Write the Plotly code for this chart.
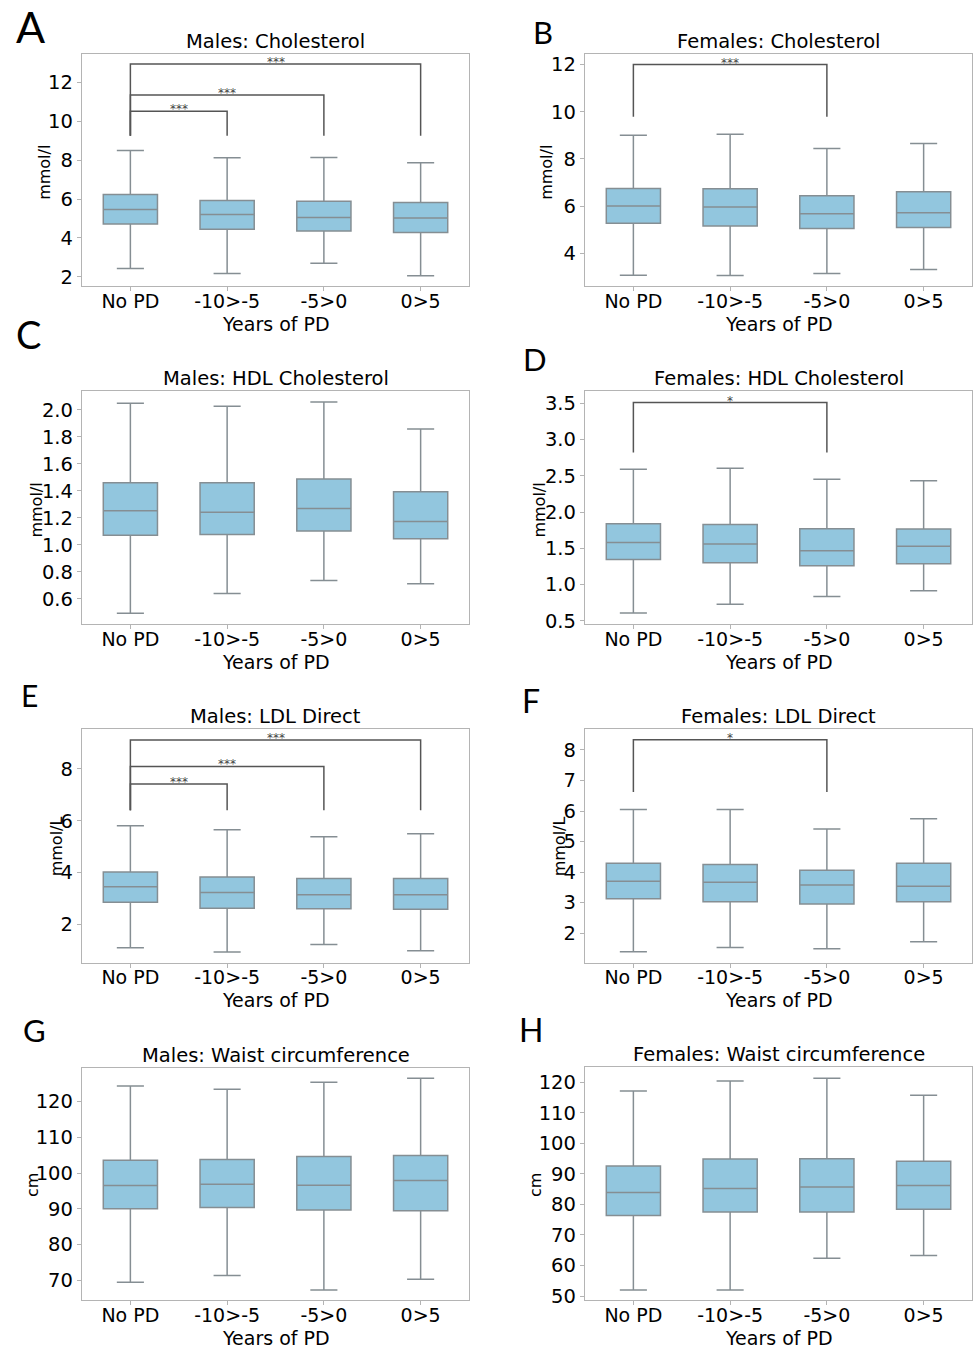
import plotly.graph_objects as go

W, H = 974, 1352

categories = ["No PD", "-10>-5", "-5>0", "0>5"]

panel_letters = ["A", "B", "C", "D", "E", "F", "G", "H"]
titles = ["Males: Cholesterol", "Females: Cholesterol",
          "Males: HDL Cholesterol", "Females: HDL Cholesterol",
          "Males: LDL Direct", "Females: LDL Direct",
          "Males: Waist circumference", "Females: Waist circumference"]
ylabels = ["mmol/l", "mmol/l", "mmol/l", "mmol/l", "mmol/L", "mmol/L", "cm", "cm"]
x_title = "Years of PD"

# box statistics per panel: lower whisker, Q1, median, Q3, upper whisker
low_A = [2.43, 2.17, 2.70, 2.05]
q1_A = [4.71, 4.44, 4.35, 4.28]
med_A = [5.46, 5.20, 5.05, 5.02]
q3_A = [6.23, 5.92, 5.88, 5.82]
up_A = [8.49, 8.12, 8.13, 7.86]

low_B = [3.07, 3.06, 3.14, 3.31]
q1_B = [5.27, 5.16, 5.05, 5.09]
med_B = [6.00, 5.96, 5.68, 5.72]
q3_B = [6.75, 6.73, 6.44, 6.61]
up_B = [9.00, 9.04, 8.44, 8.65]

low_C = [0.494, 0.641, 0.736, 0.712]
q1_C = [1.072, 1.077, 1.104, 1.045]
med_C = [1.253, 1.243, 1.270, 1.173]
q3_C = [1.461, 1.461, 1.489, 1.393]
up_C = [2.050, 2.027, 2.059, 1.858]

low_D = [0.609, 0.728, 0.837, 0.915]
q1_D = [1.347, 1.301, 1.260, 1.288]
med_D = [1.579, 1.561, 1.465, 1.530]
q3_D = [1.838, 1.829, 1.770, 1.766]
up_D = [2.589, 2.603, 2.453, 2.431]

low_E = [1.09, 0.93, 1.22, 0.98]
q1_E = [2.85, 2.62, 2.60, 2.58]
med_E = [3.45, 3.23, 3.14, 3.14]
q3_E = [4.02, 3.83, 3.77, 3.77]
up_E = [5.81, 5.65, 5.38, 5.50]

low_F = [1.39, 1.53, 1.49, 1.72]
q1_F = [3.13, 3.03, 2.96, 3.03]
med_F = [3.70, 3.67, 3.58, 3.54]
q3_F = [4.29, 4.25, 4.06, 4.29]
up_F = [6.05, 6.05, 5.41, 5.75]

low_G = [69.5, 71.4, 67.3, 70.3]
q1_G = [90.0, 90.4, 89.7, 89.5]
med_G = [96.5, 96.9, 96.6, 97.9]
q3_G = [103.6, 103.8, 104.6, 104.9]
up_G = [124.3, 123.4, 125.4, 126.5]

low_H = [52.0, 52.0, 62.4, 63.3]
q1_H = [76.4, 77.5, 77.5, 78.4]
med_H = [83.9, 85.2, 85.7, 86.2]
q3_H = [92.6, 94.9, 95.0, 94.2]
up_H = [117.2, 120.5, 121.4, 115.8]

stats = [
    (low_A, q1_A, med_A, q3_A, up_A),
    (low_B, q1_B, med_B, q3_B, up_B),
    (low_C, q1_C, med_C, q3_C, up_C),
    (low_D, q1_D, med_D, q3_D, up_D),
    (low_E, q1_E, med_E, q3_E, up_E),
    (low_F, q1_F, med_F, q3_F, up_F),
    (low_G, q1_G, med_G, q3_G, up_G),
    (low_H, q1_H, med_H, q3_H, up_H),
]

# significance brackets: (panel index, from category, to category, bracket level, leg bottom, label)
sig_panel = [0, 0, 0, 1, 3, 4, 4, 4, 5]
sig_from = ["No PD"] * 9
sig_to = ["-10>-5", "-5>0", "0>5", "-5>0", "-5>0", "-10>-5", "-5>0", "0>5", "-5>0"]
sig_level = [10.52, 11.35, 12.95, 12.0, 3.51, 7.42, 8.10, 9.12, 8.33]
sig_leg = [9.25, 9.25, 9.25, 9.79, 2.82, 6.40, 6.40, 6.40, 6.62]
sig_label = ["***", "***", "***", "***", "*", "***", "***", "***", "*"]

# axis settings
y_ranges = [[1.52, 13.48], [2.61, 12.46], [0.416, 2.137], [0.459, 3.664],
            [0.52, 9.54], [1.04, 8.68], [64.45, 129.4], [48.6, 125.1]]
y_dticks = [2, 2, 0.2, 0.5, 2, 1, 10, 10]
y_formats = ["d", "d", ".1f", ".1f", "d", "d", "d", "d"]

# layout (pixel boxes of each panel: left, right, top, bottom)
boxes = [(82, 469, 54, 288), (585, 972, 54, 288),
         (82, 469, 394, 628), (585, 972, 394, 628),
         (82, 469, 734, 969), (585, 972, 734, 969),
         (82, 469, 1075, 1309), (585, 972, 1074, 1309)]
letter_pos = [(30, 27, 43), (543, 32, 31), (28, 336, 38), (535, 361, 31),
              (29, 700, 30), (531, 705, 32), (34, 1037, 31), (531, 1036, 32)]
ylabel_pos = [(45, 174), (547, 174), (37, 514), (540, 514),
              (56, 852), (559, 852), (32, 1193), (535, 1193)]

FONT = "DejaVu Sans"
FILL = "#92c6de"
LINE = "#858e93"
SPINE = "#b4b4b4"

def px(x):
    return x / W

def py(y):
    return 1 - y / H

fig = go.Figure()
layout = dict(width=W, height=H, margin=dict(l=0, r=0, t=0, b=0),
              paper_bgcolor="white", plot_bgcolor="white", showlegend=False,
              boxgap=0.2, font=dict(family=FONT, color="black"))
annotations = []

for i in range(8):
    n = "" if i == 0 else str(i + 1)
    xa, ya = "x" + n, "y" + n
    low, q1, med, q3, up = stats[i]
    fig.add_trace(go.Box(
        x=categories, lowerfence=low, q1=q1, median=med, q3=q3, upperfence=up,
        xaxis=xa, yaxis=ya, fillcolor=FILL, line=dict(color=LINE, width=1.5),
        whiskerwidth=0.5, boxpoints=False, hoverinfo="skip"))
    l, r, t, b = boxes[i]
    layout["xaxis" + n] = dict(
        domain=[px(l), px(r)], anchor=ya, type="category",
        categoryorder="array", categoryarray=categories, range=[-0.5, 3.5],
        showline=True, mirror=True, linecolor=SPINE, linewidth=1.3,
        ticks="outside", ticklen=4, tickcolor=SPINE, tickwidth=1,
        ticklabelstandoff=-6,
        showgrid=False, zeroline=False, tickfont=dict(size=19, family=FONT))
    layout["yaxis" + n] = dict(
        domain=[py(b), py(t)], anchor=xa, range=y_ranges[i],
        dtick=y_dticks[i], tick0=0, tickformat=y_formats[i],
        showline=True, mirror=True, linecolor=SPINE, linewidth=1.3,
        ticks="outside", ticklen=4, tickcolor=SPINE, tickwidth=1,
        showgrid=False, zeroline=False, tickfont=dict(size=19.5, family=FONT))
    cx = (l + r) / 2
    annotations.append(dict(text=titles[i], x=px(cx), y=py(t), xref="paper", yref="paper",
                            xanchor="center", yanchor="bottom", yshift=-1, showarrow=False,
                            font=dict(size=19.5, family=FONT)))
    annotations.append(dict(text=x_title, x=px(cx), y=py(b + 25), xref="paper", yref="paper",
                            xanchor="center", yanchor="top", showarrow=False,
                            font=dict(size=19, family=FONT)))
    lx, ly = ylabel_pos[i]
    annotations.append(dict(text=ylabels[i], x=px(lx), y=py(ly), xref="paper", yref="paper",
                            xanchor="center", yanchor="middle", showarrow=False, textangle=-90,
                            font=dict(size=16, family=FONT)))
    gx, gy, gs = letter_pos[i]
    annotations.append(dict(text=panel_letters[i], x=px(gx), y=py(gy), xref="paper", yref="paper",
                            xanchor="center", yanchor="middle", showarrow=False,
                            font=dict(size=gs, family="Lato", color="black")))

for k in range(len(sig_panel)):
    i = sig_panel[k]
    n = "" if i == 0 else str(i + 1)
    xa, ya = "x" + n, "y" + n
    fig.add_trace(go.Scatter(
        x=[sig_from[k], sig_from[k], sig_to[k], sig_to[k]],
        y=[sig_leg[k], sig_level[k], sig_level[k], sig_leg[k]],
        mode="lines", line=dict(color="#555555", width=1.5),
        xaxis=xa, yaxis=ya, hoverinfo="skip", cliponaxis=False))
    i0 = categories.index(sig_from[k])
    i1 = categories.index(sig_to[k])
    annotations.append(dict(text=sig_label[k], x=(i0 + i1) / 2, y=sig_level[k],
                            xref=xa, yref=ya, xanchor="center", yanchor="bottom",
                            yshift=-6, showarrow=False, borderpad=0,
                            font=dict(size=12, family=FONT, color="#444444")))

layout["annotations"] = annotations
fig.update_layout(**layout)
fig.write_html("out.html")
